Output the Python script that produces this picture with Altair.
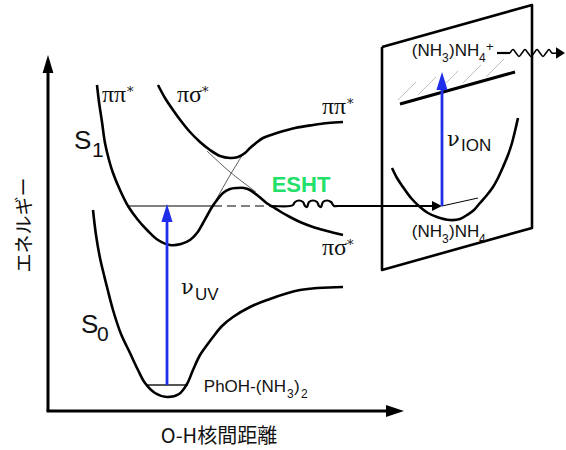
import altair as alt
import pandas as pd

W, H = 566, 450

# ---------------------------------------------------------------
# Potential energy curves (x = O-H distance, y = energy), in drawing units
# ---------------------------------------------------------------
s0_x = [93, 96, 100, 104, 107, 113, 121, 130, 138, 145, 155, 167, 179, 187, 193,
        200, 207, 213, 222, 233, 250, 267, 300, 343]
s0_y = [210, 235, 258, 275, 287, 310, 334, 353, 370, 383, 393, 397, 394, 384, 370,
        355, 345, 337, 326, 317, 307, 300, 290, 287]

s1_low_x = [97, 99, 102, 105, 109, 113, 120, 128, 138, 147, 158, 170, 181, 190, 197,
            203, 208, 212, 217, 223, 230, 237, 244, 250, 257, 263, 268, 273, 281,
            290, 300, 313, 327, 343]
s1_low_y = [85, 102, 122, 143, 160, 173, 190, 206, 220, 230, 240, 245, 244, 240, 233,
            223, 214, 207, 200, 193, 189, 188, 188, 190, 195, 200, 204, 207, 212,
            217, 222, 227, 231, 235]

s1_up_x = [158, 165, 173, 181, 190, 200, 210, 220, 230, 238, 245, 250, 256, 263, 271,
           280, 295, 313, 328, 343]
s1_up_y = [85, 98, 110, 121, 132, 142, 150, 156, 158, 157, 153, 148, 143, 138, 135,
           132, 128, 125, 123, 122]

# diabatic (crossing) states
dia_ps_x = [207, 230, 256]
dia_ps_y = [151, 172, 192]
dia_pp_x = [216, 229, 243]
dia_pp_y = [200, 177, 154]

# vibrational levels
s0_level_x = [147, 188]
s0_level_y = [385, 385]
s1_level_x = [128, 213]
s1_level_y = [206, 206]
tunnel_x = [213, 272]
tunnel_y = [206, 206]

# ESHT path with coil, leading into the product frame
esht_x = [272, 290, 293, 295, 299, 303, 305, 307, 309, 313, 317, 319, 321, 323,
          327, 331, 334, 338, 434]
esht_y = [206, 206, 205, 202, 200.5, 202, 206, 207, 202, 200.5, 202, 206, 207, 202,
          200.5, 202, 206, 206, 206]

# product frame and (NH3)NH4 well
frame_x = [382, 532, 532, 382, 382]
frame_y = [47, 5, 228, 270, 47]
well_x = [392, 397, 403, 411, 420, 428, 437, 450, 460, 467, 474, 480, 487, 493, 498,
          503, 508, 512, 515, 518]
well_y = [168, 178, 187, 198, 207, 213, 217, 220, 219, 215, 210, 203, 195, 187, 178,
          167, 155, 143, 131, 118]
well_level_x = [442, 478]
well_level_y = [206, 198]
ion_x = [400, 515]
ion_y = [104, 72]
hatch_x0 = [398, 418, 440, 463, 486]
hatch_y0 = [100, 95, 89, 83, 77]
hatch_x1 = [416, 436, 458, 481, 504]
hatch_y1 = [82, 77, 71, 65, 59]

# electron leaving the cation
ion_tail_x = [497, 510]
ion_tail_y = [53, 53]
wave_x = [510, 513, 516, 519, 522, 525, 528, 531, 534, 537, 540, 543, 546, 549, 552, 556]
wave_y = [53, 49.5, 53, 56.5, 53, 49.5, 53, 56.5, 53, 49.5, 53, 56.5, 53, 49.5, 53, 53]

# axes
yaxis_x = [48, 48]
yaxis_y = [411, 68]
xaxis_x = [46.5, 392]
xaxis_y = [411, 411]

# photon arrows
uv_x = [167, 167]
uv_y = [385, 215]
ion_arrow_x = [442, 442]
ion_arrow_y = [206, 84]

BLUE = "#1f2ee8"
GREEN = "#22e06a"

X = alt.X("x:Q", scale=alt.Scale(domain=[0, W], nice=False, zero=False), axis=None)
Y = alt.Y("y:Q", scale=alt.Scale(domain=[0, H], nice=False, zero=False, reverse=True),
          axis=None)


def paths(*pairs):
    rows = []
    for k, (xs, ys) in enumerate(pairs):
        for i, (a, b) in enumerate(zip(xs, ys)):
            rows.append({"x": a, "y": b, "i": i, "seg": k})
    return pd.DataFrame(rows)


def lines(df, width, color="black", dash=None, interp="linear"):
    kw = dict(strokeWidth=width, color=color, interpolate=interp, strokeJoin="round")
    if dash:
        kw["strokeDash"] = dash
    return alt.Chart(df).mark_line(**kw).encode(
        x=X, y=Y, order="i:Q", detail="seg:N")


def heads(xs, ys, shape, size, color="black"):
    df = pd.DataFrame({"x": xs, "y": ys})
    return alt.Chart(df).mark_point(
        shape=shape, size=size, filled=True, opacity=1, strokeWidth=0, color=color
    ).encode(x=X, y=Y)


def texts(rows, font, size, color="#111", weight="normal", align="left",
          baseline="alphabetic", angle=None):
    df = pd.DataFrame(rows, columns=["x", "y", "t"])
    kw = dict(font=font, fontSize=size, color=color, fontWeight=weight,
              align=align, baseline=baseline)
    if angle is not None:
        kw["angle"] = angle
    return alt.Chart(df).mark_text(**kw).encode(x=X, y=Y, text="t:N")


UP = "M0,0L-0.62,2L0.62,2Z"
RIGHT = "M0,0L-2,-0.67L-2,0.67Z"
RIGHT_SMALL = "M0,0L-2,-1L-2,1Z"

hatch_pairs = [([a, c], [b, d]) for a, b, c, d in zip(hatch_x0, hatch_y0, hatch_x1, hatch_y1)]

layers = [
    # frame and hatching
    lines(paths(*hatch_pairs), 0.8, color="#b0b0b0"),
    lines(paths((frame_x, frame_y)), 2.6),
    # thin construction lines
    lines(paths((dia_ps_x, dia_ps_y), (dia_pp_x, dia_pp_y)), 0.8, color="#333",
          interp="catmull-rom"),
    lines(paths((s1_level_x, s1_level_y), (well_level_x, well_level_y)), 1.0),
    lines(paths((tunnel_x, tunnel_y)), 1.0, dash=[9, 5]),
    lines(paths((s0_level_x, s0_level_y)), 2.0, color="#555"),
    # potential curves
    lines(paths((s0_x, s0_y), (s1_low_x, s1_low_y), (s1_up_x, s1_up_y),
                (well_x, well_y)), 2.6, interp="catmull-rom"),
    lines(paths((ion_x, ion_y)), 3.0),
    # ESHT transfer and electron
    lines(paths((esht_x, esht_y)), 2.2, interp="catmull-rom"),
    lines(paths((ion_tail_x, ion_tail_y)), 2.2),
    lines(paths((wave_x, wave_y)), 1.6, interp="catmull-rom"),
    heads([442], [206], RIGHT_SMALL, 100),
    heads([565], [53], "M0,0L-2,-1.3L-2,1.3Z", 81),
    # axes
    lines(paths((yaxis_x, yaxis_y), (xaxis_x, xaxis_y)), 3.0),
    heads([48], [55], "M0,0L-0.6,2L0.6,2Z", 324),
    heads([404], [411], RIGHT, 324),
    # photon arrows
    lines(paths((uv_x, uv_y), (ion_arrow_x, ion_arrow_y)), 2.8, color=BLUE),
    heads([167, 442], [204, 72], UP, 324, color=BLUE),
    # state labels
    texts([(102, 102, "ππ"), (177, 102, "πσ"), (322, 114, "ππ"), (322, 255, "πσ")],
          "Liberation Serif", 24),
    texts([(127, 96, "*"), (202, 96, "*"), (347, 108, "*"), (347, 249, "*")],
          "DejaVu Serif", 13),
    texts([(74, 149, "S"), (81, 333, "S")], "Liberation Sans", 26),
    texts([(92, 157, "1"), (97, 341, "0")], "Liberation Sans", 21),
    texts([(301, 192, "ESHT")], "Liberation Sans", 22, color=GREEN, weight="bold",
          align="center"),
    texts([(181, 294, "ν"), (447, 146, "ν")], "DejaVu Serif", 21),
    texts([(195, 300, "UV"), (461, 151, "ION")], "Liberation Sans", 17),
    # species labels (pieces meet at the subscript anchors)
    texts([(286, 392, "PhOH-(NH"), (442, 56, "(NH"), (442, 237, "(NH")],
          "Liberation Sans", 17, align="right"),
    texts([(294, 392, ")"), (449, 56, ")NH"), (449, 237, ")NH")],
          "Liberation Sans", 17),
    texts([(287, 398, "3"), (301, 398, "2"),
           (442, 62, "3"), (479, 62, "4"),
           (442, 243, "3"), (479, 243, "4")], "Liberation Sans", 12),
    texts([(486, 51, "+")], "Liberation Sans", 13),
    # axis titles
    texts([(219, 443, "O-H核間距離")], "Noto Sans CJK JP", 20, align="center"),
    texts([(25, 225, "エネルギー")], "Noto Sans CJK JP", 19, align="center",
          baseline="middle", angle=270),
]

chart = alt.layer(*layers).properties(
    width=W, height=H, padding=0, autosize="none", background="white"
).configure_view(stroke=None)

chart.save("out.html", embed_options={"renderer": "svg", "actions": False})
